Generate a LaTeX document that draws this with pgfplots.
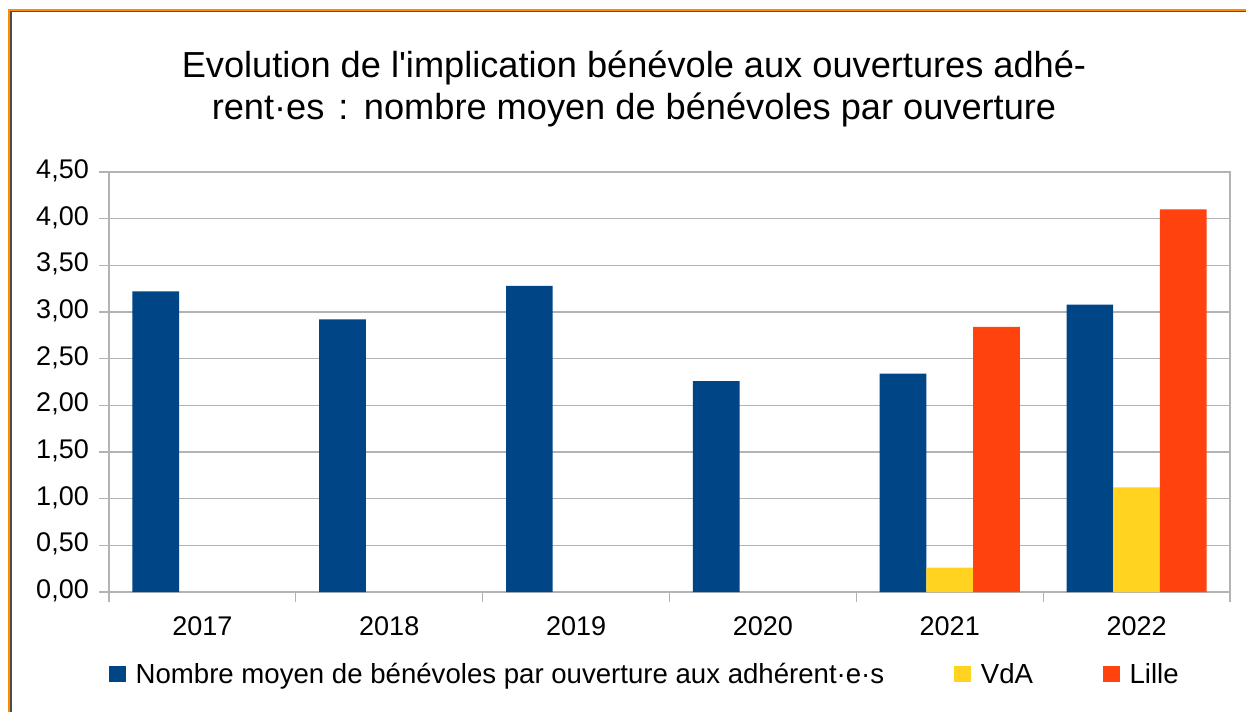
\documentclass[border=0pt]{standalone}
\usepackage{fontspec}
\setmainfont{Liberation Sans}
\newfontfamily\lib{Liberation Sans}
\usepackage{pgfplots}
\pgfplotsset{compat=1.18}
\definecolor{cblue}{HTML}{004586}
\definecolor{cyellow}{HTML}{FFD320}
\definecolor{cred}{HTML}{FF420E}
\definecolor{cgrid}{HTML}{B3B3B3}
\definecolor{corange}{HTML}{FF8C00}
\definecolor{cdark}{HTML}{4D4D4D}
\begin{document}
\begin{tikzpicture}[x=1pt,y=1pt]
\useasboundingbox (0,0) rectangle (1246,712);
\fill[white] (0,0) rectangle (1246,712);
\draw[corange, line width=2.2pt] (9,0) -- (9,702) -- (1246,702);
\draw[cdark, line width=1.4pt] (11,0) -- (11,700.2) -- (1246,700.2);
\node[anchor=base, inner sep=0pt, font=\lib\fontsize{36.2}{40}\selectfont] at (634,634.3) {Evolution de l'implication bénévole aux ouvertures adhé-};
\node[anchor=base, inner sep=0pt, font=\lib\fontsize{36.2}{40}\selectfont] at (634,592) {rent·es\hspace{4pt} :\hspace{2pt} nombre moyen de bénévoles par ouverture};
\begin{axis}[
  at={(109pt,120pt)}, anchor=south west,
  scale only axis, width=1121pt, height=420pt,
  xmin=-0.5, xmax=5.5, ymin=0, ymax=4.5,
  axis line style={cgrid, line width=1.3pt},
  ytick={0,0.5,1,1.5,2,2.5,3,3.5,4,4.5},
  yticklabels={{0,00},{0,50},{1,00},{1,50},{2,00},{2,50},{3,00},{3,50},{4,00},{4,50}},
  ymajorgrids, grid style={cgrid, line width=1.3pt},
  xtick={-0.5,0.5,1.5,2.5,3.5,4.5,5.5},
  xticklabels={2017,2018,2019,2020,2021,2022,{}},
  ytick pos=left, xtick pos=bottom, tick align=outside,
  major tick length=10pt,
  tick style={cgrid, line width=1.3pt},
  xticklabel style={anchor=base, inner sep=0pt, xshift=93.42pt, yshift=-33pt, font=\fontsize{27}{30}\selectfont},
  yticklabel style={anchor=base east, inner sep=0pt, xshift=-10pt, yshift=-6.5pt, font=\fontsize{27}{30}\selectfont},
  legend columns=-1,
  legend style={draw=none, fill=none, at={(0pt,-82pt)}, anchor=west, inner sep=0pt,
    font=\fontsize{27.6}{30}\selectfont,
    /tikz/every odd column/.append style={column sep=8pt},
    /tikz/every even column/.append style={column sep=68pt}},
  legend image code/.code={\fill[#1, draw=none] (0pt,-8pt) rectangle (16.5pt,8pt);},
]
\addplot[ybar, bar width=0.25, bar shift=-0.25, fill=cblue, draw=none]
  coordinates {(0,3.22) (1,2.92) (2,3.28) (3,2.26) (4,2.34) (5,3.08)};
\addlegendentry{Nombre moyen de bénévoles par ouverture aux adhérent·e·s}
\addplot[ybar, bar width=0.25, bar shift=0, fill=cyellow, draw=none]
  coordinates {(4,0.26) (5,1.12)};
\addlegendentry{VdA}
\addplot[ybar, bar width=0.25, bar shift=0.25, fill=cred, draw=none]
  coordinates {(4,2.84) (5,4.10)};
\addlegendentry{Lille}
\end{axis}
\end{tikzpicture}
\end{document}
